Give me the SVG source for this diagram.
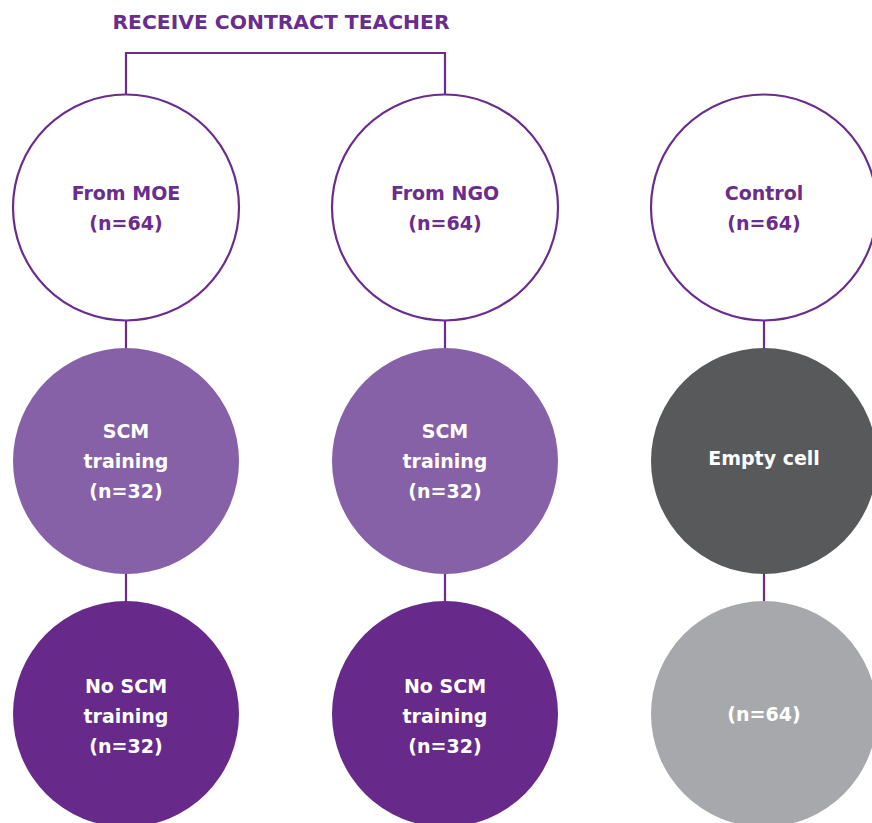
<svg xmlns="http://www.w3.org/2000/svg" width="872" height="823" viewBox="0 0 872 823">
  <style>
    .t { font-family: "DejaVu Sans", "Liberation Sans", sans-serif; font-weight: bold; font-size: 19px; text-anchor: middle; }
    .p { fill: #6a2c8e; }
    .w { fill: #ffffff; }
    .line { stroke: #6a2c8e; stroke-width: 2.2; fill: none; }
    .ring { fill: #ffffff; stroke: #6a2c8e; stroke-width: 2.2; }
  </style>
  <rect width="872" height="823" fill="#ffffff"/>

  <text x="281" y="29" class="t p" style="font-size:20.3px">RECEIVE CONTRACT TEACHER</text>

  <g id="connectors">
    <path class="line" d="M126 94 V53 H445 V94"/>
    <path class="line" d="M126 320 V349 M126 573 V602"/>
    <path class="line" d="M445 320 V349 M445 573 V602"/>
    <path class="line" d="M764 320 V349 M764 573 V602"/>
  </g>

  <g id="moe">
    <circle class="ring" cx="126" cy="207.5" r="113"/>
    <text class="t p" x="126" y="200">From MOE</text>
    <text class="t p" x="126" y="230">(n=64)</text>
  </g>
  <g id="ngo">
    <circle class="ring" cx="445" cy="207.5" r="113"/>
    <text class="t p" x="445" y="200">From NGO</text>
    <text class="t p" x="445" y="230">(n=64)</text>
  </g>
  <g id="control">
    <circle class="ring" cx="764" cy="207.5" r="113"/>
    <text class="t p" x="764" y="200">Control</text>
    <text class="t p" x="764" y="230">(n=64)</text>
  </g>

  <g id="moe-scm">
    <circle cx="126" cy="461" r="113" fill="#8761a7"/>
    <text class="t w" x="126" y="438">SCM</text>
    <text class="t w" x="126" y="468">training</text>
    <text class="t w" x="126" y="498">(n=32)</text>
  </g>
  <g id="ngo-scm">
    <circle cx="445" cy="461" r="113" fill="#8761a7"/>
    <text class="t w" x="445" y="438">SCM</text>
    <text class="t w" x="445" y="468">training</text>
    <text class="t w" x="445" y="498">(n=32)</text>
  </g>
  <g id="control-empty">
    <circle cx="764" cy="461" r="113" fill="#58595b"/>
    <text class="t w" x="764" y="465">Empty cell</text>
  </g>

  <g id="moe-noscm">
    <circle cx="126" cy="714" r="113" fill="#672a8a"/>
    <text class="t w" x="126" y="693">No SCM</text>
    <text class="t w" x="126" y="723">training</text>
    <text class="t w" x="126" y="753">(n=32)</text>
  </g>
  <g id="ngo-noscm">
    <circle cx="445" cy="714" r="113" fill="#672a8a"/>
    <text class="t w" x="445" y="693">No SCM</text>
    <text class="t w" x="445" y="723">training</text>
    <text class="t w" x="445" y="753">(n=32)</text>
  </g>
  <g id="control-n">
    <circle cx="764" cy="714" r="113" fill="#a7a8ab"/>
    <text class="t w" x="764" y="721">(n=64)</text>
  </g>
</svg>
